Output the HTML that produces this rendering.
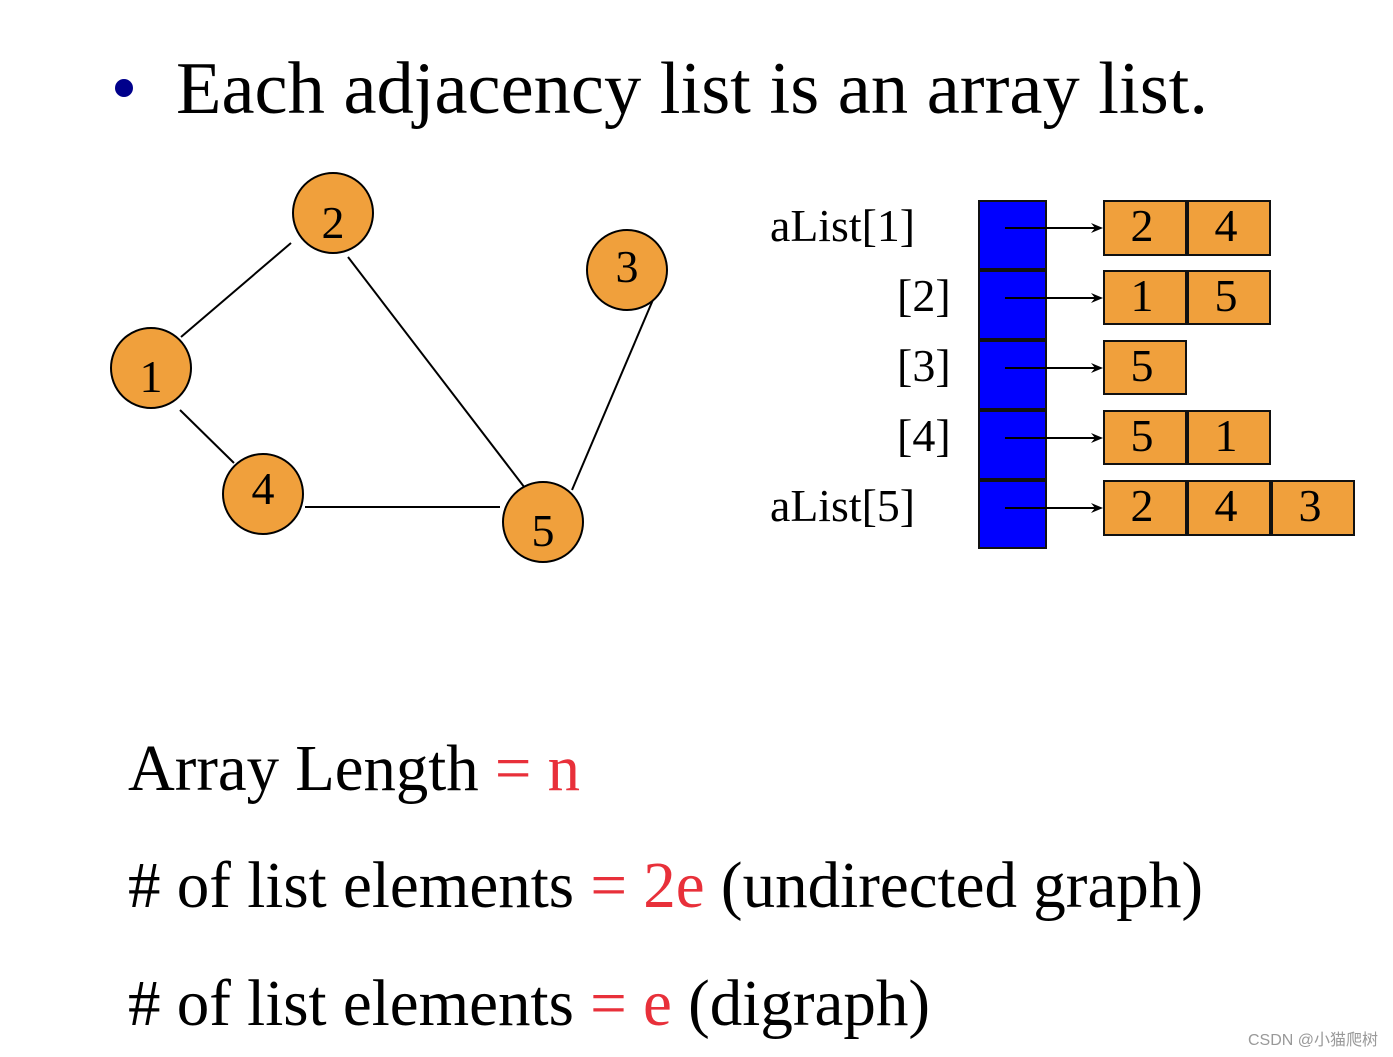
<!DOCTYPE html>
<html><head><meta charset="utf-8"><style>html,body{margin:0;padding:0;background:#fff}svg{display:block}</style></head>
<body>
<svg width="1393" height="1057" viewBox="0 0 1393 1057" xmlns="http://www.w3.org/2000/svg" font-family="Liberation Serif, serif">
<circle cx="124" cy="88" r="9" fill="#00008b"/>
<text x="176" y="113" font-size="74" textLength="1032" lengthAdjust="spacingAndGlyphs">Each adjacency list is an array list.</text>
<g stroke="#000" stroke-width="2">
<line x1="291" y1="243" x2="181" y2="337"/>
<line x1="180" y1="410" x2="234" y2="463"/>
<line x1="305" y1="507" x2="500" y2="507"/>
<line x1="348" y1="257" x2="528" y2="492"/>
<line x1="655" y1="295" x2="572" y2="490"/>
</g>
<g fill="#f0a03c" stroke="#000" stroke-width="2">
<circle cx="151" cy="368" r="40"/><circle cx="333" cy="213" r="40"/><circle cx="627" cy="270" r="40"/><circle cx="263" cy="494" r="40"/><circle cx="543" cy="522" r="40"/>
</g>
<g font-size="46" text-anchor="middle">
<text x="151" y="392">1</text><text x="333" y="238">2</text><text x="627" y="282">3</text><text x="263" y="504">4</text><text x="543" y="546">5</text>
</g>
<g font-size="46">
<text x="770" y="241" textLength="145" lengthAdjust="spacingAndGlyphs">aList[1]</text>
<text x="897" y="311">[2]</text><text x="897" y="381">[3]</text><text x="897" y="451">[4]</text>
<text x="770" y="521" textLength="145" lengthAdjust="spacingAndGlyphs">aList[5]</text>
</g>
<g fill="#0000ff" stroke="#111" stroke-width="2">
<rect x="979" y="201" width="67" height="68"/><rect x="979" y="271" width="67" height="68"/><rect x="979" y="341" width="67" height="68"/><rect x="979" y="411" width="67" height="68"/><rect x="979" y="481" width="67" height="67"/>
</g>
<g fill="#f0a03c" stroke="#111" stroke-width="2">
<rect x="1104" y="201" width="82" height="54"/><rect x="1188" y="201" width="82" height="54"/>
<rect x="1104" y="271" width="82" height="53"/><rect x="1188" y="271" width="82" height="53"/>
<rect x="1104" y="341" width="82" height="53"/>
<rect x="1104" y="411" width="82" height="53"/><rect x="1188" y="411" width="82" height="53"/>
<rect x="1104" y="481" width="82" height="54"/><rect x="1188" y="481" width="82" height="54"/><rect x="1272" y="481" width="82" height="54"/>
</g>
<g stroke="#000" stroke-width="2">
<line x1="1005" y1="228" x2="1098" y2="228"/><line x1="1005" y1="298" x2="1098" y2="298"/><line x1="1005" y1="368" x2="1098" y2="368"/><line x1="1005" y1="438" x2="1098" y2="438"/><line x1="1005" y1="508" x2="1098" y2="508"/>
</g>
<g fill="#000">
<path d="M1103 228 l-12 -5 l4 5 l-4 5z"/><path d="M1103 298 l-12 -5 l4 5 l-4 5z"/><path d="M1103 368 l-12 -5 l4 5 l-4 5z"/><path d="M1103 438 l-12 -5 l4 5 l-4 5z"/><path d="M1103 508 l-12 -5 l4 5 l-4 5z"/>
</g>
<g font-size="46" text-anchor="middle">
<text x="1142" y="241">2</text><text x="1226" y="241">4</text>
<text x="1142" y="311">1</text><text x="1226" y="311">5</text>
<text x="1142" y="381">5</text>
<text x="1142" y="451">5</text><text x="1226" y="451">1</text>
<text x="1142" y="521">2</text><text x="1226" y="521">4</text><text x="1310" y="521">3</text>
</g>
<text x="128" y="790" font-size="66" textLength="452" lengthAdjust="spacingAndGlyphs">Array Length <tspan fill="#e8303a">= n</tspan></text>
<text x="128" y="907" font-size="66" textLength="1075" lengthAdjust="spacingAndGlyphs"># of list elements <tspan fill="#e8303a">= 2e</tspan> (undirected graph)</text>
<text x="128" y="1025" font-size="66" textLength="802" lengthAdjust="spacingAndGlyphs"># of list elements <tspan fill="#e8303a">= e</tspan> (digraph)</text>
<text x="1378" y="1045" font-size="16" fill="#999" text-anchor="end" font-family="Liberation Sans, Noto Sans CJK SC, sans-serif">CSDN @小猫爬树</text>
</svg>
</body></html>
